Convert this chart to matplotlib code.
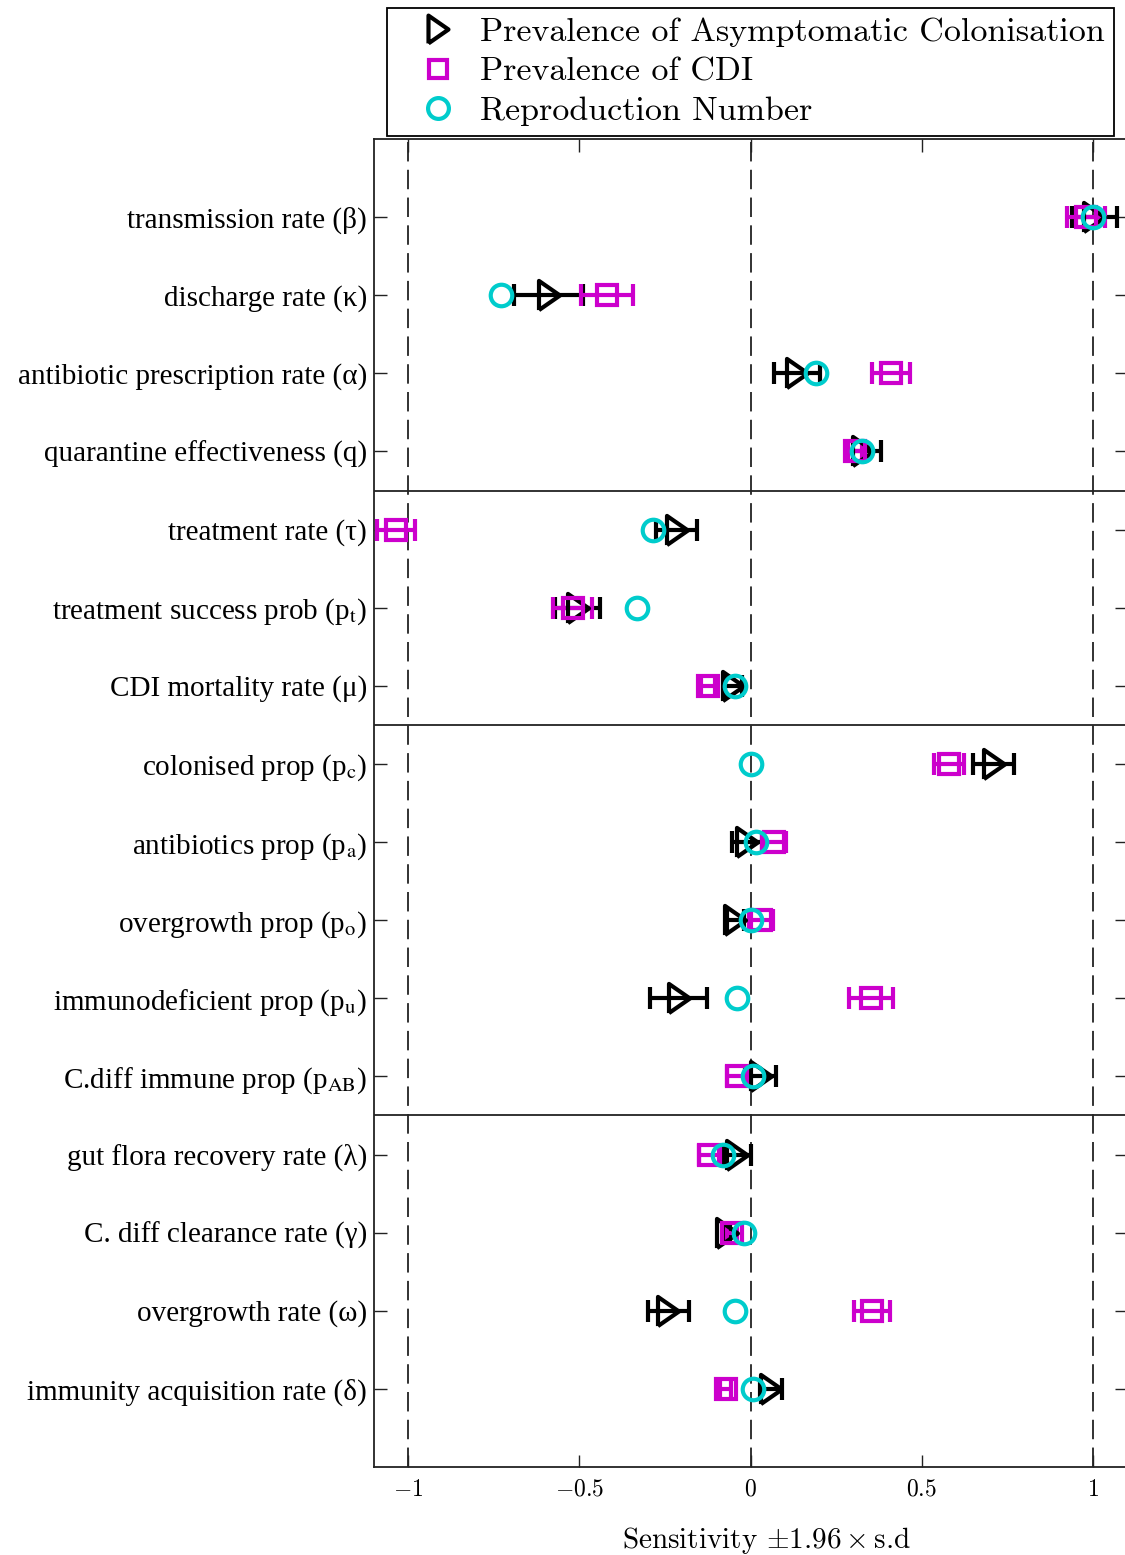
import matplotlib
matplotlib.use("Agg")
import matplotlib.pyplot as plt
from matplotlib.lines import Line2D
import numpy as np

plt.rcParams["mathtext.fontset"] = "cm"
plt.rcParams["axes.unicode_minus"] = True
plt.rcParams["lines.scale_dashes"] = False

# Parameters, top to bottom
params = [
    "transmission rate (β)",
    "discharge rate (κ)",
    "antibiotic prescription rate (α)",
    "quarantine effectiveness (q)",
    "treatment rate (τ)",
    r"treatment success prob (p$_\mathrm{t}$)",
    "CDI mortality rate (μ)",
    r"colonised prop (p$_\mathrm{c}$)",
    r"antibiotics prop (p$_\mathrm{a}$)",
    r"overgrowth prop (p$_\mathrm{o}$)",
    r"immunodeficient prop (p$_\mathrm{u}$)",
    r"C.diff immune prop (p$_\mathrm{AB}$)",
    "gut flora recovery rate (λ)",
    "C. diff clearance rate (γ)",
    "overgrowth rate (ω)",
    "immunity acquisition rate (δ)",
]

# Sensitivity and 1.96 x s.d for each output
colon_mean = [1.005, -0.59, 0.135, 0.33, -0.215, -0.505, -0.05, 0.71, -0.01, -0.045, -0.21, 0.03, -0.04, -0.07, -0.24, 0.06]
colon_err = [0.067, 0.10, 0.067, 0.05, 0.06, 0.065, 0.025, 0.06, 0.045, 0.025, 0.083, 0.045, 0.04, 0.01, 0.06, 0.033]
cdi_mean = [0.98, -0.42, 0.41, 0.305, -1.035, -0.52, -0.125, 0.58, 0.07, 0.03, 0.352, -0.04, -0.12, -0.055, 0.355, -0.073]
cdi_err = [0.055, 0.076, 0.055, 0.02, 0.055, 0.058, 0.02, 0.045, 0.035, 0.035, 0.065, 0.03, 0.03, 0.015, 0.053, 0.015]
r0_mean = [1.0, -0.73, 0.19, 0.325, -0.286, -0.333, -0.044, 0.0, 0.017, 0.0, -0.038, 0.008, -0.079, -0.02, -0.044, 0.006]

# group boundaries (between rows)
group_breaks = [4.5, 7.5, 12.5]

MAG = "#cc00cc"
CYAN = "#00cccc"

W, H = 1125, 1555
fig = plt.figure(figsize=(W / 100, H / 100), dpi=100)
ax = fig.add_axes([374 / W, 1 - 1467 / H, (1127 - 374) / W, (1467 - 139) / H])

y = np.arange(1, len(params) + 1)

tri = [(-0.72, -1.0), (0.72, 0.0), (-0.72, 1.0), (-0.72, -1.0)]
series = [
    (colon_mean, colon_err, "k", tri, 21),
    (cdi_mean, cdi_err, MAG, "s", 14.5),
    (r0_mean, None, CYAN, "o", 15.5),
]
for mean, err, col, mk, ms in series:
    if err is not None:
        ax.errorbar(mean, y, xerr=err, fmt="none", ecolor=col, elinewidth=3,
                    capsize=8, capthick=3, zorder=3)
    ax.plot(mean, y, linestyle="none", marker=mk, markersize=ms,
            markerfacecolor="none", markeredgecolor=col, markeredgewidth=3,
            zorder=4)

for xv in (-1, 0, 1):
    ax.axvline(xv, color="#222222", lw=1.3, dashes=(14, 6), zorder=1)
for yb in group_breaks:
    ax.axhline(yb, color="#222222", lw=1.3, zorder=2)

ax.set_xlim(-1.1, 1.1)
ax.set_ylim(len(params) + 1, 0)

ax.set_xticks([-1, -0.5, 0, 0.5, 1])
ax.set_xticklabels([r"$-1$", r"$-0.5$", r"$0$", r"$0.5$", r"$1$"], fontsize=17)
ax.set_yticks(y)
ax.set_yticklabels(params, fontsize=21, fontfamily="Liberation Serif",
                   math_fontfamily="stix")
ax.tick_params(axis="x", direction="in", length=9, width=1, top=True, pad=7,
               color="#222222")
ax.tick_params(axis="y", direction="in", length=9, width=1, right=True, pad=5,
               color="#222222")
for s in ax.spines.values():
    s.set_linewidth(1.3)
    s.set_color("#222222")

ax.set_xlabel(r"Sensitivity $\pm 1.96\times$s.d", fontsize=21, fontfamily="cmr10")
ax.xaxis.set_label_coords((766 - 374) / (1127 - 374), -0.044)

handles = [
    Line2D([], [], linestyle="none", marker=tri, markersize=20, markerfacecolor="none",
           markeredgecolor="k", markeredgewidth=3),
    Line2D([], [], linestyle="none", marker="s", markersize=13, markerfacecolor="none",
           markeredgecolor=MAG, markeredgewidth=3),
    Line2D([], [], linestyle="none", marker="o", markersize=15, markerfacecolor="none",
           markeredgecolor=CYAN, markeredgewidth=3),
]
leg = fig.legend(handles,
                 ["Prevalence of Asymptomatic Colonisation", "Prevalence of CDI",
                  "Reproduction Number"],
                 loc="upper left", bbox_to_anchor=(387 / W, 1 - 8 / H),
                 prop={"family": "cmr10", "size": 24.5}, frameon=True, fancybox=False,
                 edgecolor="k", framealpha=1, borderpad=0.28, labelspacing=0.28,
                 handletextpad=0.0, handlelength=2.45, borderaxespad=0)
leg.get_frame().set_linewidth(1.3)

fig.savefig("out.png", dpi=100)
